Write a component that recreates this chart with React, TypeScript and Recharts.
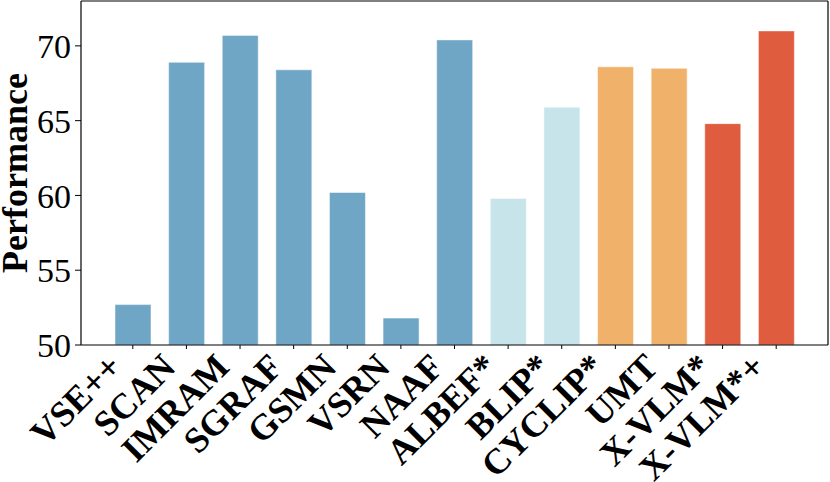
import { Bar, BarChart, Cell, XAxis, YAxis } from 'recharts';

const models = [
  'VSE++', 'SCAN', 'IMRAM', 'SGRAF', 'GSMN', 'VSRN', 'NAAF',
  'ALBEF*', 'BLIP*', 'CYCLIP*', 'UMT', 'X-VLM*', 'X-VLM*+',
];
const scores = [52.7, 68.9, 70.7, 68.4, 60.2, 51.8, 70.4, 59.8, 65.9, 68.6, 68.5, 64.8, 71.0];
const groups = [0, 0, 0, 0, 0, 0, 0, 1, 1, 2, 2, 3, 3];
const yTicks = [50, 55, 60, 65, 70];

const palette = ['#6FA6C6', '#C6E4E9', '#F0B26B', '#DF5C3E'];
const font = 'Liberation Serif';

const data = models.map((name, i) => ({ name, score: scores[i], group: groups[i] }));

// rotated category labels, right end tucked just left of the tick
const XTick = (props: any) => {
  const { x, y, payload } = props;
  const ax = x - 9;
  const ay = y + 20;
  return (
    <text
      x={ax}
      y={ay}
      transform={`rotate(-45 ${ax} ${ay})`}
      textAnchor="end"
      style={{ fontFamily: font, fontWeight: 'bold', fontSize: 36 }}
      fill="#000"
    >
      {payload.value}
    </text>
  );
};

const YLabel = () => (
  <text
    x={27}
    y={173}
    transform="rotate(-90 27 173)"
    textAnchor="middle"
    style={{ fontFamily: font, fontWeight: 'bold', fontSize: 36 }}
    fill="#000"
  >
    Performance
  </text>
);

export default function App() {
  return (
    <div style={{ position: 'fixed', left: 0, top: 0, background: '#fff', fontFamily: font }}>
      <BarChart
        width={830}
        height={482}
        data={data}
        margin={{ top: 0, right: 1, left: 0, bottom: 0 }}
      >
        <XAxis
          dataKey="name"
          interval={0}
          height={137}
          padding={{ left: 25, right: 25 }}
          axisLine={{ stroke: '#000', strokeWidth: 1.2 }}
          tickLine={{ stroke: '#000' }}
          tickSize={4}
          tickMargin={0}
          tick={<XTick />}
        />
        <XAxis
          xAxisId="top"
          orientation="top"
          dataKey="name"
          height={1}
          tick={false}
          tickLine={false}
          axisLine={{ stroke: '#000', strokeWidth: 1.2 }}
        />
        <YAxis
          width={81}
          domain={[50, 73]}
          ticks={yTicks}
          allowDataOverflow
          axisLine={{ stroke: '#000', strokeWidth: 1.2 }}
          tickLine={{ stroke: '#000' }}
          tickSize={6}
          tickMargin={4}
          tick={{ fill: '#000', fontSize: 34, fontFamily: font }}
          label={<YLabel />}
        />
        <YAxis
          yAxisId="right"
          orientation="right"
          width={1}
          domain={[50, 73]}
          tick={false}
          tickLine={false}
          axisLine={{ stroke: '#000', strokeWidth: 1.2 }}
        />
        <Bar dataKey="score" barSize={36} isAnimationActive={false} stroke="#ffffff" strokeOpacity={0.5} strokeWidth={1}>
          {data.map((d) => (
            <Cell key={d.name} fill={palette[d.group]} />
          ))}
        </Bar>
      </BarChart>
    </div>
  );
}
